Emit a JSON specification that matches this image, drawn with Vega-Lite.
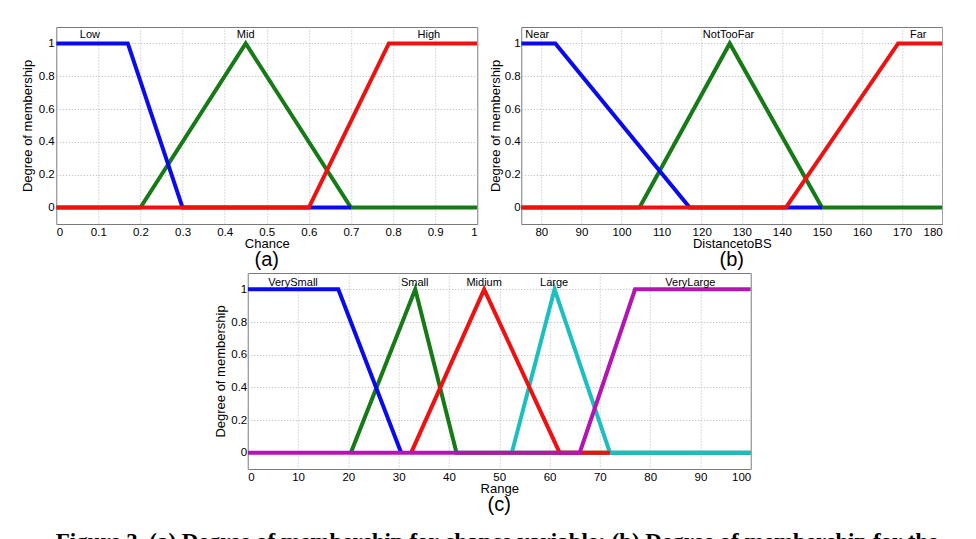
{
  "$schema": "https://vega.github.io/schema/vega-lite/v6.json",
  "background": "white",
  "padding": {"left": 20, "top": 26, "right": 0, "bottom": 0},
  "config": {
    "font": "Liberation Sans",
    "view": {"stroke": "#7a7a7a", "strokeWidth": 1},
    "axis": {
      "labelFontSize": 11.5, "labelColor": "#000", "titleFontSize": 13, "titleColor": "#000",
      "titleFontWeight": "normal", "ticks": false, "domain": false, "labelOverlap": false,
      "gridColor": "#b5b5b5", "gridDash": [1, 2], "gridWidth": 1,
      "labelPadding": 2, "titlePadding": 3, "tickCount": 12
    },
    "axisX": {"titlePadding": 0},
    "title": {"font": "Liberation Sans", "fontSize": 20, "fontWeight": "normal", "color": "#000"}
  },
  "title": {
    "text": "Figure 3. (a) Degree of membership for chance variable; (b) Degree of membership for the",
    "orient": "bottom", "anchor": "start", "font": "Liberation Serif", "fontSize": 23,
    "fontWeight": "bold", "color": "#000", "offset": 16, "dx": 35
  },
  "datasets": {
    "a": [
      {"mf": "Mid", "x": 0, "y": 0}, {"mf": "Mid", "x": 0.2, "y": 0}, {"mf": "Mid", "x": 0.45, "y": 1}, {"mf": "Mid", "x": 0.7, "y": 0}, {"mf": "Mid", "x": 1, "y": 0},
      {"mf": "Low", "x": 0, "y": 1}, {"mf": "Low", "x": 0.17, "y": 1}, {"mf": "Low", "x": 0.3, "y": 0}, {"mf": "Low", "x": 0.7, "y": 0},
      {"mf": "High", "x": 0, "y": 0}, {"mf": "High", "x": 0.6, "y": 0}, {"mf": "High", "x": 0.79, "y": 1}, {"mf": "High", "x": 1, "y": 1}
    ],
    "aLabels": [
      {"mf": "Low", "x": 0.08, "y": 1.05}, {"mf": "Mid", "x": 0.45, "y": 1.05}, {"mf": "High", "x": 0.885, "y": 1.05}
    ],
    "b": [
      {"mf": "NotTooFar", "x": 75, "y": 0}, {"mf": "NotTooFar", "x": 104.5, "y": 0}, {"mf": "NotTooFar", "x": 127, "y": 1}, {"mf": "NotTooFar", "x": 150, "y": 0}, {"mf": "NotTooFar", "x": 180, "y": 0},
      {"mf": "Near", "x": 75, "y": 1}, {"mf": "Near", "x": 83.5, "y": 1}, {"mf": "Near", "x": 117, "y": 0}, {"mf": "Near", "x": 150, "y": 0},
      {"mf": "Far", "x": 75, "y": 0}, {"mf": "Far", "x": 141, "y": 0}, {"mf": "Far", "x": 169, "y": 1}, {"mf": "Far", "x": 180, "y": 1}
    ],
    "bLabels": [
      {"mf": "Near", "x": 79, "y": 1.05}, {"mf": "NotTooFar", "x": 126.7, "y": 1.05}, {"mf": "Far", "x": 174, "y": 1.05}
    ],
    "c": [
      {"mf": "Small", "x": 20.5, "y": 0}, {"mf": "Small", "x": 33.3, "y": 1}, {"mf": "Small", "x": 41.5, "y": 0}, {"mf": "Small", "x": 100, "y": 0},
      {"mf": "Large", "x": 52.5, "y": 0}, {"mf": "Large", "x": 61, "y": 1}, {"mf": "Large", "x": 72, "y": 0}, {"mf": "Large", "x": 100, "y": 0},
      {"mf": "VerySmall", "x": 0, "y": 1}, {"mf": "VerySmall", "x": 18, "y": 1}, {"mf": "VerySmall", "x": 30.5, "y": 0},
      {"mf": "Midium", "x": 32.5, "y": 0}, {"mf": "Midium", "x": 47, "y": 1}, {"mf": "Midium", "x": 62, "y": 0}, {"mf": "Midium", "x": 72, "y": 0},
      {"mf": "VeryLarge", "x": 0, "y": 0}, {"mf": "VeryLarge", "x": 66, "y": 0}, {"mf": "VeryLarge", "x": 77, "y": 1}, {"mf": "VeryLarge", "x": 100, "y": 1}
    ],
    "cLabels": [
      {"mf": "VerySmall", "x": 9, "y": 1.04}, {"mf": "Small", "x": 33.2, "y": 1.04}, {"mf": "Midium", "x": 47, "y": 1.04}, {"mf": "Large", "x": 60.9, "y": 1.04}, {"mf": "VeryLarge", "x": 88, "y": 1.04}
    ]
  },
  "vconcat": [
    {
      "hconcat": [
        {
          "width": 421, "height": 197,
          "title": {"text": "(a)", "orient": "bottom", "offset": -1},
          "layer": [
            {
              "data": {"name": "a"},
              "mark": {"type": "line", "strokeWidth": 4, "clip": true},
              "encoding": {
                "x": {"field": "x", "type": "quantitative", "scale": {"domain": [0, 1], "nice": false},
                      "axis": {"title": "Chance", "values": [0, 0.1, 0.2, 0.3, 0.4, 0.5, 0.6, 0.7, 0.8, 0.9, 1], "format": "~f", "tickCount": 12}},
                "y": {"field": "y", "type": "quantitative", "scale": {"domain": [-0.1, 1.1], "nice": false},
                      "axis": {"title": "Degree of membership", "values": [0, 0.2, 0.4, 0.6, 0.8, 1], "format": "~f", "titlePadding": 4, "tickCount": 10}},
                "color": {"field": "mf", "type": "nominal", "legend": null,
                          "scale": {"domain": ["Low", "Mid", "High"], "range": ["#0a0af0", "#167a16", "#f01010"]}}
              }
            },
            {
              "data": {"name": "aLabels"},
              "mark": {"type": "text", "fontSize": 11, "baseline": "middle", "color": "#000"},
              "encoding": {
                "x": {"field": "x", "type": "quantitative"},
                "y": {"field": "y", "type": "quantitative"},
                "text": {"field": "mf"}
              }
            }
          ]
        },
        {
          "width": 421, "height": 197,
          "title": {"text": "(b)", "orient": "bottom", "offset": -1},
          "layer": [
            {
              "data": {"name": "b"},
              "mark": {"type": "line", "strokeWidth": 4, "clip": true},
              "encoding": {
                "x": {"field": "x", "type": "quantitative", "scale": {"domain": [75, 180], "nice": false},
                      "axis": {"title": "DistancetoBS", "values": [80, 90, 100, 110, 120, 130, 140, 150, 160, 170, 180], "format": "~f", "tickCount": 12}},
                "y": {"field": "y", "type": "quantitative", "scale": {"domain": [-0.1, 1.1], "nice": false},
                      "axis": {"title": "Degree of membership", "values": [0, 0.2, 0.4, 0.6, 0.8, 1], "format": "~f", "labelPadding": 1, "titlePadding": 2, "tickCount": 10}},
                "color": {"field": "mf", "type": "nominal", "legend": null,
                          "scale": {"domain": ["Near", "NotTooFar", "Far"], "range": ["#0a0af0", "#167a16", "#f01010"]}}
              }
            },
            {
              "data": {"name": "bLabels"},
              "mark": {"type": "text", "fontSize": 11, "baseline": "middle", "color": "#000"},
              "encoding": {
                "x": {"field": "x", "type": "quantitative"},
                "y": {"field": "y", "type": "quantitative"},
                "text": {"field": "mf"}
              }
            }
          ]
        }
      ],
      "spacing": 10,
      "resolve": {"scale": {"color": "independent"}}
    },
    {
      "width": 503, "height": 196,
      "title": {"text": "(c)", "orient": "bottom", "offset": -1},
      "layer": [
        {
          "data": {"name": "c"},
          "mark": {"type": "line", "strokeWidth": 4, "clip": true},
          "encoding": {
            "x": {"field": "x", "type": "quantitative", "scale": {"domain": [0, 100], "nice": false},
                  "axis": {"title": "Range", "values": [0, 10, 20, 30, 40, 50, 60, 70, 80, 90, 100], "format": "~f", "tickCount": 12}},
            "y": {"field": "y", "type": "quantitative", "scale": {"domain": [-0.1, 1.1], "nice": false},
                  "axis": {"title": "Degree of membership", "values": [0, 0.2, 0.4, 0.6, 0.8, 1], "format": "~f", "labelPadding": 1, "titlePadding": 3, "tickCount": 10}},
            "color": {"field": "mf", "type": "nominal", "legend": null,
                      "scale": {"domain": ["VerySmall", "Small", "Midium", "Large", "VeryLarge"], "range": ["#0a0af0", "#167a16", "#f01010", "#1cbfbf", "#b414b4"]}}
          }
        },
        {
          "data": {"name": "cLabels"},
          "mark": {"type": "text", "fontSize": 11, "baseline": "middle", "color": "#000"},
          "encoding": {
            "x": {"field": "x", "type": "quantitative"},
            "y": {"field": "y", "type": "quantitative"},
            "text": {"field": "mf"}
          }
        }
      ]
    }
  ],
  "spacing": 2,
  "center": true,
  "resolve": {"scale": {"color": "independent"}}
}
